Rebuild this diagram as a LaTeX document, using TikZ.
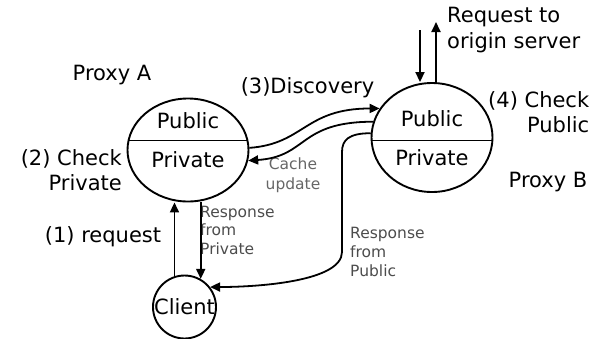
\documentclass[tikz,border=0pt]{standalone}
\usepackage{fontspec}
\setmainfont{DejaVu Sans}
\usetikzlibrary{positioning,arrows.meta,shapes.geometric}

\begin{document}
\begin{tikzpicture}[
    x=1pt, y=-1pt,
    proxy/.style={draw=black, line width=1.9pt, ellipse, inner sep=0pt},
    clientnode/.style={draw=black, line width=1.9pt, circle, inner sep=0pt, minimum size=63pt},
    bigtext/.style={font=\fontsize{21}{25}\selectfont, inner sep=0pt},
    smalltext/.style={font=\fontsize{15.5}{18.5}\selectfont, inner sep=0pt, text=black!70, align=left},
    arrow/.style={-{Triangle[length=10pt,width=9pt]}, line width=1.8pt}
]
\useasboundingbox (0,0) rectangle (593,338);

% the two proxies and the client
\node[proxy, minimum width=121pt, minimum height=103pt] (proxyA) at (188,150) {};
\node[proxy, minimum width=121pt, minimum height=109pt] (proxyB) at (432,137.5) {};
\node[clientnode, bigtext] (client) at (184.5,307) {Client};

\draw[line width=1.5pt] (proxyA.171) -- (proxyA.9);
\draw[line width=1.5pt] (proxyB.183.5) -- (proxyB.-3.5);

\node[bigtext] (pubA) at ([yshift=29pt]proxyA.center) {Public};
\node[bigtext] (privA) at ([yshift=-10pt]proxyA.center) {Private};
\node[bigtext] (pubB) at ([yshift=18.5pt]proxyB.center) {Public};
\node[bigtext] (privB) at ([yshift=-20.5pt]proxyB.center) {Private};

% labels
\node[bigtext] (nameA) at (112,75) {Proxy A};
\node[bigtext] (nameB) at (548,182) {Proxy B};
\node[bigtext, align=right, anchor=east] (checkA) at (122,170.5) {(2) Check\\Private};
\node[bigtext, align=right, anchor=west] (checkB) at (488,112.5) {(4) Check\\Public};
\node[bigtext] (disc) at (307.5,88) {(3)Discovery};
\node[bigtext] (req) at (103,237) {(1) request};
\node[bigtext, align=left, anchor=west, font=\fontsize{21}{26}\selectfont] (origin) at (447,30) {Request to\\origin server};
\node[smalltext, align=center, text=black!60, font=\fontsize{15.5}{20}\selectfont] (cache) at (293,175) {Cache\\update};
\node[smalltext, anchor=west] (respPriv) at (200,230) {Response\\from\\Private};
\node[smalltext, anchor=west, font=\fontsize{15.5}{19}\selectfont] (respPub) at (350,252) {Response\\from\\Public};

% connectors
\coordinate (reqin) at (420,30);
\coordinate (reqout) at (436,22);
\coordinate (pubtop) at (342,152);
\coordinate (pubbot) at (342,252);

\draw[arrow] (client.108) -- (client.108 |- proxyA.south);
\draw[arrow] (client.60 |- proxyA.south) -- (client.60);
\draw[arrow] (proxyA.2) .. controls +(55,-4) and +(-75,0) .. (proxyB.151);
\draw[arrow] (proxyB.165) .. controls +(-75,0) and +(60,-4) .. (proxyA.-10);
\draw[arrow] (proxyB.176) .. controls +(-22,0) and +(0,-12) .. (pubtop) -- (pubbot)
    .. controls +(0,30) and +(45,0) .. (client.38);
\draw[arrow] (reqin) -- (reqin |- proxyB.north);
\draw[arrow] (reqout |- proxyB.north) -- (reqout);
\end{tikzpicture}
\end{document}
